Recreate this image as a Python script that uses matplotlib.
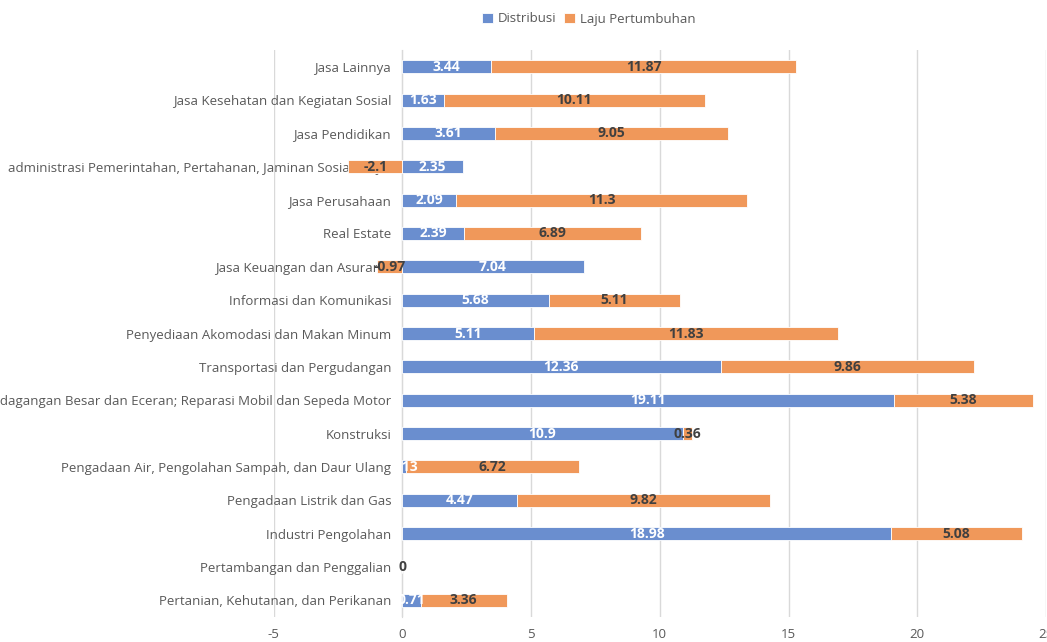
import numpy as np
import matplotlib.pyplot as plt

# -----------------------------
# Data (bottom to top)
# -----------------------------
categories = [
    "Pertanian, Kehutanan, dan Perikanan",
    "Pertambangan dan Penggalian",
    "Industri Pengolahan",
    "Pengadaan Listrik dan Gas",
    "Pengadaan Air, Pengolahan Sampah, dan Daur Ulang",
    "Konstruksi",
    "Perdagangan Besar dan Eceran; Reparasi Mobil dan Sepeda Motor",
    "Transportasi dan Pergudangan",
    "Penyediaan Akomodasi dan Makan Minum",
    "Informasi dan Komunikasi",
    "Jasa Keuangan dan Asuransi",
    "Real Estate",
    "Jasa Perusahaan",
    "administrasi Pemerintahan, Pertahanan, Jaminan Sosial Wajib",
    "Jasa Pendidikan",
    "Jasa Kesehatan dan Kegiatan Sosial",
    "Jasa Lainnya",
]
distribusi = [0.71, 0, 18.98, 4.47, 0.13, 10.9, 19.11, 12.36, 5.11, 5.68,
              7.04, 2.39, 2.09, 2.35, 3.61, 1.63, 3.44]
laju = [3.36, 0, 5.08, 9.82, 6.72, 0.36, 5.38, 9.86, 11.83, 5.11,
        -0.97, 6.89, 11.3, -2.1, 9.05, 10.11, 11.87]

BLUE = "#6a8ecf"
ORANGE = "#f0985a"
GREY = "#595959"

plt.rcParams['font.family'] = ['Open Sans', 'DejaVu Sans']
plt.rcParams['axes.unicode_minus'] = False

fig = plt.figure(figsize=(10.47, 6.42), dpi=100)
ax = fig.add_axes([273.5 / 1047, 1 - 617 / 642, (1046 - 273.5) / 1047, 567 / 642])

y = np.arange(len(categories))
dist = np.array(distribusi)
lj = np.array(laju)
# positive values stack after Distribusi, negative ones go left from zero
lj_left = np.where(lj >= 0, dist, 0)

h = 0.39
b1 = ax.barh(y, dist, height=h, color=BLUE, edgecolor="white", linewidth=0.6,
             label="Distribusi", zorder=3)
b2 = ax.barh(y, lj, left=lj_left, height=h, color=ORANGE, edgecolor="white",
             linewidth=0.6, label="Laju Pertumbuhan", zorder=3)

for i in range(len(categories)):
    ax.text(dist[i] / 2, y[i], f"{distribusi[i]:g}", ha="center", va="center",
            color="white", fontsize=10, fontweight="bold", zorder=5)
    ax.text(lj_left[i] + lj[i] / 2, y[i], f"{laju[i]:g}", ha="center",
            va="center", color="#404040", fontsize=10, fontweight="bold", zorder=5)

ax.set_xlim(-5, 25)
ax.set_ylim(-0.5, len(categories) - 0.5)
ax.set_xticks(range(-5, 26, 5))
ax.tick_params(axis="x", length=0, colors=GREY, labelsize=9.5, pad=8)
ax.grid(axis="x", color="#d9d9d9", linewidth=1, zorder=0)

ax.spines['left'].set_position(('data', 0))
ax.spines['left'].set_color("#d9d9d9")
for s in ['top', 'right', 'bottom']:
    ax.spines[s].set_visible(False)
ax.set_yticks(y)
ax.set_yticklabels(categories)
ax.tick_params(axis="y", length=0, colors=GREY, labelsize=9.5, pad=8)
for lbl in ax.get_yticklabels():
    lbl.set_zorder(4)

fig.legend(handles=[b1, b2], loc="center", bbox_to_anchor=(589 / 1047, 1 - 19 / 642),
           ncol=2, frameon=False, fontsize=9.5, labelcolor=GREY,
           handlelength=0.8, handleheight=0.8, handletextpad=0.4, columnspacing=0.6)

plt.savefig("out.png", dpi=100)
